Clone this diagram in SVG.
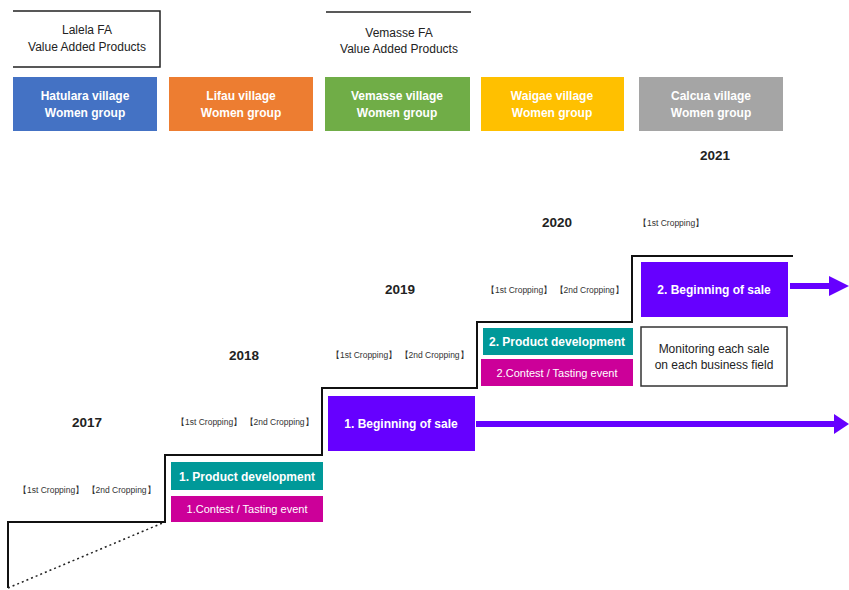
<svg xmlns="http://www.w3.org/2000/svg" width="849" height="590" viewBox="0 0 849 590">
<style>
text{font-family:"Liberation Sans",Arial,sans-serif;}
.w{fill:#fff;font-weight:bold;font-size:12px;text-anchor:middle;}
.k{fill:#222;font-size:12px;text-anchor:middle;}
.yr{fill:#222;font-weight:bold;font-size:13.5px;text-anchor:middle;}
.cr{fill:#333;font-size:8.5px;}
.stair{fill:none;stroke:#111;stroke-width:2;}
</style>
<rect width="849" height="590" fill="#fff"/>
<g id="fa1">
<path d="M13 11 H160 V67 H13" fill="none" stroke="#222" stroke-width="1.5"/>
<text class="k" x="87" y="34">Lalela FA</text>
<text class="k" x="87" y="51">Value Added Products</text>
</g>
<g id="fa2">
<line x1="326" y1="12" x2="471" y2="12" stroke="#222" stroke-width="1.5"/>
<text class="k" x="399" y="37">Vemasse FA</text>
<text class="k" x="399" y="53">Value Added Products</text>
</g>
<g id="v1"><rect x="13" y="77" width="144" height="54" fill="#4472C4"/><text class="w" x="85" y="100">Hatulara village</text><text class="w" x="85" y="117">Women group</text></g>
<g id="v2"><rect x="169" y="77" width="144" height="54" fill="#ED7D31"/><text class="w" x="241" y="100">Lifau village</text><text class="w" x="241" y="117">Women group</text></g>
<g id="v3"><rect x="325" y="77" width="145" height="54" fill="#70AD47"/><text class="w" x="397" y="100">Vemasse village</text><text class="w" x="397" y="117">Women group</text></g>
<g id="v4"><rect x="481" y="77" width="143" height="54" fill="#FFC000"/><text class="w" x="552" y="100">Waigae village</text><text class="w" x="552" y="117">Women group</text></g>
<g id="v5"><rect x="639" y="77" width="144" height="54" fill="#A5A5A5"/><text class="w" x="711" y="100">Calcua village</text><text class="w" x="711" y="117">Women group</text></g>
<g id="years">
<text class="yr" x="715" y="160">2021</text>
<text class="yr" x="557" y="227">2020</text>
<text class="yr" x="400" y="294">2019</text>
<text class="yr" x="244" y="360">2018</text>
<text class="yr" x="87" y="427">2017</text>
</g>
<g id="croppings">
<text class="cr" x="638" y="226">【1st Cropping】</text>
<text class="cr" x="486" y="293">【1st Cropping】 【2nd Cropping】</text>
<text class="cr" x="331" y="358">【1st Cropping】 【2nd Cropping】</text>
<text class="cr" x="176" y="425">【1st Cropping】 【2nd Cropping】</text>
<text class="cr" x="18" y="493">【1st Cropping】 【2nd Cropping】</text>
</g>
<g id="connectors">
<path class="stair" d="M8 588 V522 H165 V455 H322 V388 H477 V322 H632 V256 H793"/>
<line x1="8" y1="588" x2="165" y2="522" stroke="#222" stroke-width="1.5" stroke-dasharray="2,3"/>
<line x1="476" y1="424" x2="836" y2="424" stroke="#6600FF" stroke-width="6"/>
<polygon points="834,414 849,424 834,434" fill="#6600FF"/>
<line x1="790" y1="286" x2="830" y2="286" stroke="#6600FF" stroke-width="6"/>
<polygon points="829,276 849,286 829,296" fill="#6600FF"/>
</g>
<g id="pd1"><rect x="171" y="462" width="152" height="28" fill="#009999"/><text class="w" x="247" y="481">1. Product development</text></g>
<g id="ct1"><rect x="171" y="496" width="152" height="26" fill="#CC0099"/><text class="w" x="247" y="513" style="font-weight:normal;font-size:11px">1.Contest / Tasting event</text></g>
<g id="bs1"><rect x="328" y="396" width="147" height="55" fill="#6600FF"/><text class="w" x="401" y="428">1. Beginning of sale</text></g>
<g id="pd2"><rect x="483" y="328" width="150" height="27" fill="#009999"/><text class="w" x="557" y="346">2. Product development</text></g>
<g id="ct2"><rect x="481" y="359" width="152" height="27" fill="#CC0099"/><text class="w" x="557" y="377" style="font-weight:normal;font-size:11px">2.Contest / Tasting event</text></g>
<g id="bs2"><rect x="641" y="262" width="147" height="55" fill="#6600FF"/><text class="w" x="714" y="294">2. Beginning of sale</text></g>
<g id="mon"><rect x="641" y="327" width="146" height="59" fill="#fff" stroke="#333" stroke-width="1.5"/><text class="k" x="714" y="353">Monitoring each sale</text><text class="k" x="714" y="369">on each business field</text></g>
</svg>
